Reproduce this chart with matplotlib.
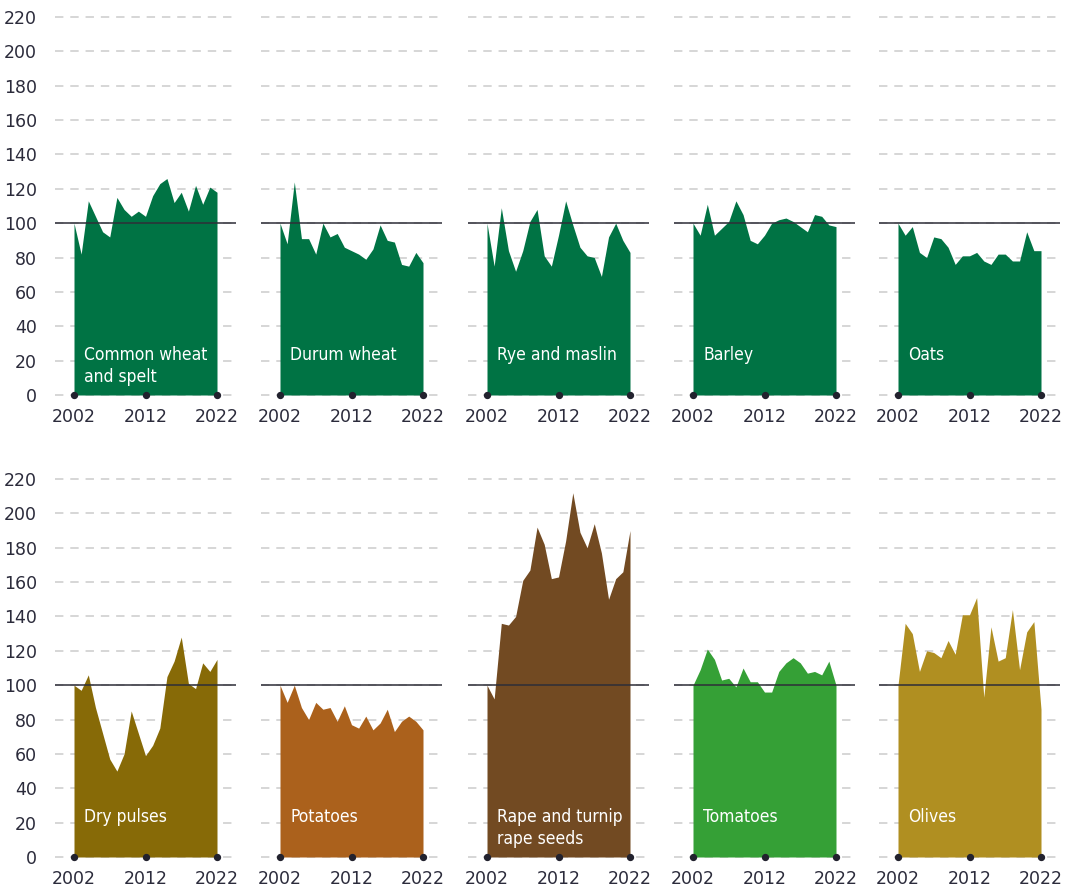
#!/usr/bin/env python3
import numpy as np
import matplotlib
matplotlib.use('Agg')
import matplotlib.pyplot as plt
from matplotlib import font_manager

years = np.arange(2002, 2023)

# production index, 2002 = 100
common_wheat = [100, 82, 113, 104, 95, 92, 115, 108, 104, 107, 104, 116, 123, 126, 112, 118, 107, 122, 111, 121, 118]
durum_wheat = [100, 88, 124, 91, 91, 82, 100, 92, 94, 86, 84, 82, 79, 85, 99, 90, 89, 76, 75, 83, 77]
rye_maslin = [100, 75, 109, 84, 72, 84, 101, 108, 81, 75, 93, 113, 99, 86, 81, 80, 69, 92, 100, 90, 83]
barley = [100, 93, 111, 93, 97, 101, 113, 105, 90, 88, 93, 100, 102, 103, 101, 98, 95, 105, 104, 99, 98]
oats = [100, 93, 98, 83, 80, 92, 91, 86, 76, 81, 81, 83, 78, 76, 82, 82, 78, 78, 95, 84, 84]
dry_pulses = [100, 97, 106, 87, 72, 57, 50, 60, 85, 72, 59, 65, 75, 105, 114, 128, 101, 98, 113, 108, 115]
potatoes = [100, 90, 100, 87, 80, 90, 86, 87, 79, 88, 77, 75, 82, 74, 78, 86, 73, 79, 82, 79, 74]
rape_seeds = [100, 92, 136, 135, 140, 161, 167, 192, 182, 162, 163, 184, 212, 189, 180, 194, 177, 150, 162, 166, 190]
tomatoes = [100, 109, 121, 115, 103, 104, 99, 110, 102, 102, 96, 96, 108, 113, 116, 113, 107, 108, 106, 114, 100]
olives = [100, 136, 130, 108, 120, 119, 116, 126, 118, 141, 141, 151, 93, 134, 114, 116, 144, 109, 131, 137, 86]

labels = ['Common wheat\nand spelt', 'Durum wheat', 'Rye and maslin', 'Barley', 'Oats',
          'Dry pulses', 'Potatoes', 'Rape and turnip\nrape seeds', 'Tomatoes', 'Olives']
series = [common_wheat, durum_wheat, rye_maslin, barley, oats,
          dry_pulses, potatoes, rape_seeds, tomatoes, olives]
colors = ['#007344', '#007344', '#007344', '#007344', '#007344',
          '#876a07', '#ab611c', '#724a22', '#35a036', '#b08f21']

y_ticks = np.arange(0, 221, 20)
x_ticks = [2002, 2012, 2022]

TEXT = '#2b2b3b'

# narrow face for the in-panel labels, if one is around
names = {f.name for f in font_manager.fontManager.ttflist}
condensed = [f for f in font_manager.fontManager.ttflist
             if f.name == 'DejaVu Sans' and f.stretch == 'condensed' and f.weight == 400 and f.style == 'normal']
if 'Liberation Sans Narrow' in names:
    label_font = dict(family='Liberation Sans Narrow')
elif condensed:
    label_font = dict(fname=condensed[0].fname)
else:
    label_font = dict(family='DejaVu Sans')

W, H = 1070, 894
fig = plt.figure(figsize=(W / 100, H / 100), dpi=100)

px_year = 7.15
x0 = [74, 280, 487, 693, 898]
y_zero = [395, 857]
px_unit = 378 / 220

for i, (vals, lab, col) in enumerate(zip(series, labels, colors)):
    row, c = divmod(i, 5)
    left_px = x0[c] - 2.65 * px_year
    width_px = 25.3 * px_year
    bottom_px = H - y_zero[row]
    ax = fig.add_axes([left_px / W, bottom_px / H, width_px / W, 220 * px_unit / H])
    ax.set_xlim(2002 - 2.65, 2002 - 2.65 + 25.3)
    ax.set_ylim(0, 220)

    for t in y_ticks:
        ax.axhline(t, color='#cccccc', lw=1.1, ls=(0, (5.5, 4.5)), zorder=0, clip_on=False)
    ax.fill_between(years, vals, 0, color=col, lw=0, zorder=1)
    ax.axhline(100, color='#2e2e38', lw=1.1, zorder=2)
    ax.scatter(x_ticks, [0] * 3, s=18, color='#22222e', zorder=3, clip_on=False)

    fp = font_manager.FontProperties(size=12.5, **label_font)
    ax.text(2003.4, 28.5, lab, color='white', fontproperties=fp,
            va='top', ha='left', linespacing=1.3, zorder=4)

    for s in ax.spines.values():
        s.set_visible(False)
    ax.set_xticks(x_ticks)
    ax.set_xticklabels([str(x) for x in x_ticks])
    ax.tick_params(axis='x', length=0, pad=9, labelsize=12.5, labelcolor=TEXT)
    if c == 0:
        ax.set_yticks(y_ticks)
        ax.set_yticklabels([str(t) for t in y_ticks])
        ax.tick_params(axis='y', length=0, pad=13, labelsize=12.5, labelcolor=TEXT)
    else:
        ax.set_yticks([])
    ax.patch.set_alpha(0)

fig.savefig('out.png', dpi=100)
